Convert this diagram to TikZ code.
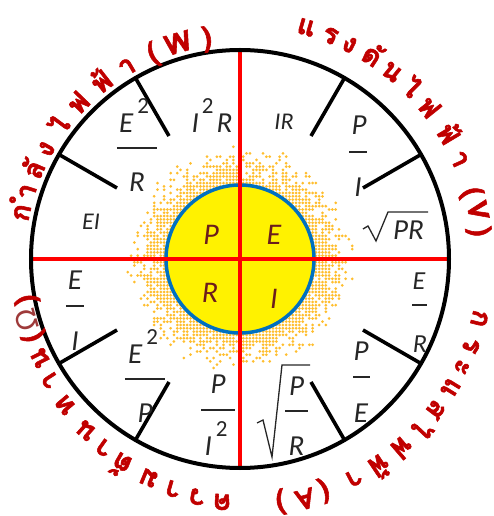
\documentclass[tikz,border=0pt]{standalone}
\usepackage{fontspec}
\setmainfont{Carlito}
\newfontfamily\thaifont[Script=Thai,FakeBold=2]{Loma}
\newfontfamily\omgfont{DejaVu Sans}
\definecolor{thred}{HTML}{C00000}
\definecolor{omgred}{HTML}{9E3A3A}
\definecolor{cblue}{HTML}{0070C0}
\definecolor{maroon}{HTML}{6B1D1D}
\definecolor{halo}{HTML}{FFBE2E}
\newcommand\fl{\fontsize{29}{30}\selectfont\itshape}
\newcommand\fm{\fontsize{26}{27}\selectfont\itshape}
\newcommand\fs{\fontsize{24}{25}\selectfont\itshape}
\newcommand\two{\raisebox{19pt}{\fontsize{23}{24}\selectfont\upshape 2}}
\newcommand\lp{(}
\newcommand\rp{)}
\tikzset{
  redline/.style={draw=red,line width=3.5},
  spoke/.style={draw=black,line width=3.6},
  barline/.style={draw=black!85,line width=1.2},
  radline/.style={draw=black!85,line width=1.3,line join=miter},
  fnode/.style={inner sep=0pt,text=black!85,anchor=base},
  core/.style={inner sep=0pt,text=maroon,anchor=base,font=\fontsize{30}{31}\selectfont\itshape},
  thaitxt/.style={inner sep=0pt,anchor=base,text=thred,font=\thaifont\bfseries\fontsize{28}{29}\selectfont},
}
\begin{document}
\begin{tikzpicture}[x=1pt,y=1pt]
\useasboundingbox (-240,-257) rectangle (253,259);
% halo dots
\pgfmathsetseed{12}
\foreach \i in {-35,...,35}{
  \foreach \j in {-35,...,35}{
    \pgfmathsetmacro\rr{3.3*veclen(\i,\j)}
    \pgfmathsetmacro\ok{(\rr>72)*(\rr<115)*(rnd<1.05*(115-\rr)/40)}
    \ifdim\ok pt>0.5pt \fill[halo] (3.3*\i,3.3*\j) circle (1.5); \fi
  }}
% inner circle
\fill[yellow] (0,0) circle (74);
\draw[cblue,line width=3.5] (0,0) circle (74);
% red cross
\draw[redline] (-209,0) -- (209,0);
\draw[redline] (0,-209) -- (0,209);
% outer circle and spokes
\draw[line width=4] (0,0) circle (209);
\foreach \a in {30,60,120,150,210,240,300,330}
  \draw[spoke] (\a:142) -- (\a:209);
% core letters
\node[core] (cP) at (-29,14) {P};
\node[core] (cE) at (34,14) {E};
\node[core] (cR) at (-30,-44) {R};
\node[core] (cI) at (34,-49) {I};
% formulas (image pixel coordinates)
\begin{scope}[shift={(-240,259)},yscale=-1]
  \node[fnode] (f1) at (212,133) {\fl I\kern3pt\two\kern3pt R};
  \node[fnode] (f2n) at (134,133) {\fl E\kern4pt\two};
  \draw[barline] (117,148) -- (157,148);
  \node[fnode] (f2d) at (137,192) {\fl R};
  \node[fnode] (f3) at (91,230) {\fs EI};
  \node[fnode] (f4) at (284,130) {\fs IR};
  \node[fnode] (f5n) at (359,135) {\fl P};
  \draw[barline] (349,152) -- (367,152);
  \node[fnode] (f5d) at (358,197) {\fl I};
  \node[fnode] (f6) at (408.5,240) {\fl PR};
  \draw[radline] (363,229) -- (368,226) -- (376,241) -- (388,212) -- (428,212);
  \node[fnode] (f7n) at (419,290) {\fm E};
  \draw[barline] (412,305) -- (427,305);
  \node[fnode] (f7d) at (420,352) {\fm R};
  \node[fnode] (f8n) at (361,360) {\fl P};
  \draw[barline] (353,377) -- (370,377);
  \node[fnode] (f8d) at (361,422) {\fl E};
  \node[fnode] (f9n) at (296.5,395) {\fl P};
  \draw[barline] (285,411) -- (308,411);
  \node[fnode] (f9d) at (296.5,455) {\fl R};
  \draw[radline] (257,423) -- (263,420) -- (272,457) -- (282,365) -- (310,365);
  \node[fnode] (f10n) at (75,290) {\fl E};
  \draw[barline] (66,306) -- (84,306);
  \node[fnode] (f10d) at (75,350) {\fl I};
  \node[fnode] (f11n) at (143,363) {\fl E\kern4pt\two};
  \draw[barline] (125,379) -- (165,379);
  \node[fnode] (f11d) at (145,422) {\fl P};
  \node[fnode] (f12n) at (218,393) {\fl P};
  \draw[barline] (201,410) -- (235,410);
  \node[fnode] (f12d) at (216,455) {\fl I\kern4pt\two};
\end{scope}
% Thai curved labels
\foreach \g/\a [count=\i] in {ก/168, ำ/162.5, ลั/156.5, ง/150.5, ไ/143.5, ฟ/136, ฟ้/128, า/120.5, \lp/113, W/106, \rp/98.5}
  \node[thaitxt,rotate=\a-90] (tw\i) at (\a:215) {\g};
\foreach \g/\a [count=\i] in {แ/74, ร/68, ง/63, ดั/57, น/51, ไ/45, ฟ/38.7, ฟ้/31, า/24.5, \lp/16, V/11.5, \rp/6.5}
  \node[thaitxt,rotate=\a-90] (tv\i) at (\a:233) {\g};
\foreach \g/\a [count=\i] in {ก/-14, ร/-20.5, ะ/-26, แ/-31.5, ส/-37.5, ไ/-43, ฟ/-49.3, ฟ้/-56, า/-62.5, \lp/-70, A/-74.8, \rp/-80.5}
  \node[thaitxt,rotate=\a-90] (ta\i) at (\a:239) {\g};
\foreach \g/\a [count=\i] in {ค/265.8, ว/259.8, า/253.8, ม/247.4, ต้/240, า/234.3, น/228.2, ท/220, า/212.7, น/206.5, \lp/200.6, {\omgfont\mdseries\color{omgred}Ω}/196, \rp/190.8}{
  \pgfmathsetmacro\rr{236-0.35*(265.8-\a)}
  \node[thaitxt,rotate=\a-90] (tr\i) at (\a:\rr) {\g};
}
\end{tikzpicture}
\end{document}
